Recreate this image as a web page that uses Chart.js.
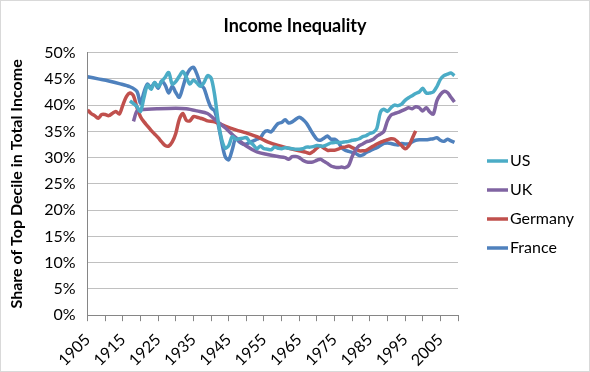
<!DOCTYPE html>
<html>
<head>
<meta charset="utf-8">
<script src="https://cdn.jsdelivr.net/npm/chart.js@4.4.0/dist/chart.umd.min.js"></script>
<style>
  html, body { margin: 0; padding: 0; background: #fff; }
  #wrap { width: 588px; height: 370px; border: 1px solid #d9d9d9; }
</style>
</head>
<body>
<div id="wrap"><canvas id="chart" width="588" height="370"></canvas></div>
<script>

var usYears = [1917,1918,1919,1920,1921,1922,1923,1924,1925,1926,1927,1928,1929,1930,1931,1932,1933,1934,1935,1936,1937,1938,1939,1940,1941,1942,1943,1944,1945,1946,1947,1948,1949,1950,1951,1952,1953,1954,1955,1956,1957,1958,1959,1960,1961,1962,1963,1964,1965,1966,1967,1968,1969,1970,1971,1972,1973,1974,1975,1976,1977,1978,1979,1980,1981,1982,1983,1984,1985,1986,1987,1988,1989,1990,1991,1992,1993,1994,1995,1996,1997,1998,1999,2000,2001,2002,2003,2004,2005,2006,2007,2008,2009];
var usValues = [40.8,40.3,39.7,38.8,41.5,43.8,43.0,44.3,43.5,44.5,45.3,46.2,44.0,44.5,45.5,46.4,45.3,44.0,44.8,44.2,43.6,44.3,45.6,45.2,42.0,37.0,33.5,31.8,32.3,34.0,33.5,33.6,33.7,33.8,33.0,32.4,31.7,32.2,31.7,31.6,31.5,32.0,31.8,31.7,31.9,31.8,31.7,31.6,31.6,31.7,32.0,32.0,32.1,32.3,32.2,32.2,32.5,32.8,32.9,32.9,32.9,33.0,33.1,33.3,33.4,33.6,34.0,34.2,34.6,34.8,35.6,38.6,39.2,38.8,39.5,40.0,39.9,40.2,40.9,41.4,41.8,42.2,42.5,43.2,42.3,42.3,42.5,43.5,44.9,45.6,45.9,46.1,45.6];

var ukYears = [1918,1919,1920,1925,1930,1933,1936,1939,1941,1944,1947,1950,1953,1956,1959,1961,1962,1963,1964,1965,1966,1967,1968,1969,1970,1971,1972,1973,1974,1975,1976,1977,1978,1979,1980,1981,1982,1983,1984,1985,1986,1987,1988,1989,1990,1991,1992,1993,1994,1995,1996,1997,1998,1999,2000,2001,2002,2003,2004,2005,2006,2007,2008,2009];
var ukValues = [36.9,38.9,39.1,39.3,39.4,39.3,38.9,38.4,37.3,35.7,33.8,32.2,31.1,30.6,30.2,30.0,29.7,30.2,30.2,30.0,29.5,29.2,29.1,29.2,29.5,29.7,29.3,28.9,28.4,28.2,28.1,28.2,28.1,28.5,30.2,31.5,32.3,32.6,33.0,33.2,33.5,34.1,34.5,35.0,37.0,38.1,38.4,38.6,38.9,39.2,39.5,39.3,39.7,39.5,38.9,39.5,38.7,38.3,40.8,42.0,42.6,42.4,41.5,40.6];

var deYears = [1905,1906,1907,1908,1909,1910,1911,1912,1913,1914,1915,1916,1917,1918,1919,1920,1921,1922,1923,1924,1925,1926,1927,1928,1929,1930,1931,1932,1933,1934,1935,1936,1937,1938,1939,1941,1944,1947,1950,1953,1956,1959,1962,1965,1967,1968,1969,1970,1971,1972,1973,1974,1975,1976,1977,1978,1979,1980,1981,1982,1983,1984,1985,1986,1987,1988,1989,1990,1991,1992,1993,1994,1995,1996,1997,1998];
var deValues = [39.1,38.4,38.0,37.5,38.2,38.2,38.0,38.4,38.8,38.3,40.0,41.6,42.3,41.8,39.5,37.8,36.8,36.0,35.2,34.5,33.8,33.0,32.3,32.2,33.0,34.6,37.3,38.4,37.1,37.0,37.8,37.7,37.5,37.3,37.0,36.8,36.0,35.3,34.7,34.0,33.0,32.3,31.8,31.3,31.0,30.8,31.2,31.8,32.2,31.8,31.4,31.4,31.4,31.6,31.9,32.0,32.2,31.9,31.6,31.3,31.3,31.4,31.8,32.2,32.6,32.9,33.2,33.4,33.6,33.5,32.9,32.3,31.7,32.2,33.6,35.1];

var frYears = [1905,1908,1911,1914,1917,1919,1920,1921,1922,1923,1924,1925,1926,1927,1928,1929,1930,1931,1932,1933,1934,1935,1936,1937,1938,1939,1940,1941,1942,1943,1944,1945,1946,1947,1948,1949,1950,1951,1952,1953,1954,1955,1956,1957,1958,1959,1960,1961,1962,1963,1964,1965,1966,1967,1968,1969,1970,1971,1972,1973,1974,1975,1976,1977,1978,1979,1980,1981,1982,1983,1984,1985,1986,1987,1988,1989,1990,1991,1992,1993,1994,1995,1996,1997,1998,1999,2000,2001,2002,2003,2004,2005,2006,2007,2008,2009];
var frValues = [45.4,45.0,44.6,44.1,43.5,42.6,40.3,42.5,44.0,43.3,44.3,43.2,44.6,43.8,42.3,43.6,42.4,41.5,43.4,45.6,46.8,47.2,45.9,44.0,43.2,41.2,39.5,38.9,36.4,33.0,30.2,29.6,31.5,33.7,33.0,32.6,32.6,32.9,33.2,33.5,33.8,34.8,35.1,34.9,35.7,36.5,36.7,37.2,36.6,36.8,37.3,37.7,37.3,36.6,35.5,34.4,33.5,33.3,33.7,34.1,33.5,33.5,33.0,31.9,31.4,31.2,31.0,30.8,30.4,30.5,31.0,31.3,31.6,31.9,32.3,32.7,32.8,32.7,32.5,32.4,32.7,32.6,32.6,33.0,33.3,33.4,33.4,33.4,33.5,33.6,33.8,33.3,33.1,33.5,33.2,32.9];

var seriesNames = ['US', 'UK', 'Germany', 'France'];
var seriesColors = ['#4bacc6', '#8064a2', '#c0504d', '#4f81bd'];

function toPoints(years, values) {
  return years.map(function(yr, i) { return { x: yr, y: values[i] }; });
}

var allYears = [usYears, ukYears, deYears, frYears];
var allValues = [usValues, ukValues, deValues, frValues];

var datasets = seriesNames.map(function(name, i) {
  return {
    label: name,
    data: toPoints(allYears[i], allValues[i]),
    borderColor: seriesColors[i],
    backgroundColor: seriesColors[i],
    borderWidth: 3.5,
    pointRadius: 0,
    tension: 0.3,
    fill: false
  };
});

var font = 'Lato';

// legend drawn by hand so the key lines sit right next to the names
var sideLegend = {
  id: 'sideLegend',
  afterDraw: function(chart) {
    var c = chart.ctx;
    c.save();
    c.font = '16px ' + font;
    c.textBaseline = 'middle';
    c.lineWidth = 3.5;
    chart.data.datasets.forEach(function(ds, i) {
      var y = 160 + i * 29;
      c.strokeStyle = ds.borderColor;
      c.beginPath();
      c.moveTo(486, y);
      c.lineTo(507, y);
      c.stroke();
      c.fillStyle = '#000';
      c.fillText(ds.label, 509, y);
    });
    c.restore();
  }
};

var ctx = document.getElementById('chart').getContext('2d');
var chart = new Chart(ctx, {
  type: 'line',
  data: { datasets: datasets },
  plugins: [sideLegend],
  options: {
    responsive: false,
    animation: false,
    layout: { padding: { left: 0, right: 0, top: 4, bottom: 0 } },
    plugins: {
      title: {
        display: true,
        text: 'Income Inequality',
        color: '#000',
        font: { family: font, size: 18, weight: 'bold' },
        padding: { top: 10, bottom: 16 }
      },
      legend: { display: false },
      tooltip: { enabled: false }
    },
    scales: {
      x: {
        type: 'linear',
        min: 1905,
        max: 2010,
        ticks: {
          stepSize: 5,
          autoSkip: false,
          maxRotation: 45,
          minRotation: 45,
          padding: 9,
          color: '#000',
          font: { family: font, size: 16 },
          callback: function(v) { return ((v - 1905) % 10 === 0 && v < 2010) ? String(v) : ''; }
        },
        grid: { drawOnChartArea: false, drawTicks: true, tickLength: 6, color: '#868686' },
        border: { color: '#868686' },
        afterFit: function(scale) { scale.height -= 8; }
      },
      y: {
        min: 0,
        max: 50,
        ticks: {
          stepSize: 5,
          color: '#000',
          font: { family: font, size: 16 },
          padding: 12,
          callback: function(v) { return v + '%'; }
        },
        grid: { color: '#c0c0c0', drawTicks: false },
        border: { color: '#868686' },
        title: {
          display: true,
          text: 'Share of Top Decile in Total Income',
          color: '#000',
          font: { family: font, size: 16, weight: 'bold' },
          padding: { top: 6, bottom: 6 }
        }
      },
      // empty axis on the right only to keep room for the legend
      legendRoom: {
        type: 'linear',
        position: 'right',
        display: true,
        grid: { display: false },
        ticks: { display: false },
        border: { display: false },
        afterFit: function(scale) { scale.width = 131; }
      }
    }
  }
});
</script>
</body>
</html>
